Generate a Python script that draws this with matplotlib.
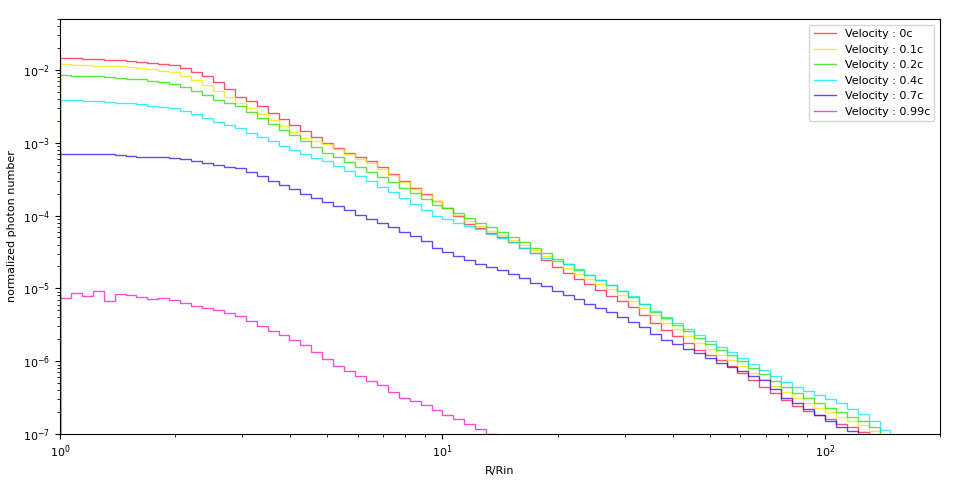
import numpy as np
import matplotlib
matplotlib.use("Agg")
from matplotlib import pyplot as plt

# log-spaced bins, 35 per decade, starting at R/Rin = 1
bin_edges = 10 ** (np.arange(77) / 35.0)

labels = ["Velocity : 0c", "Velocity : 0.1c", "Velocity : 0.2c",
          "Velocity : 0.4c", "Velocity : 0.7c", "Velocity : 0.99c"]
colors = ["#ff1a3c", "#f5e600", "#22e000", "#00e8ff", "#2a10e8", "#ff10c8"]

# log10 of normalized photon number per bin
red_log = [-1.84, -1.84, -1.85, -1.85, -1.86, -1.87, -1.88, -1.89, -1.90, -1.92,
           -1.93, -1.97, -2.03, -2.09, -2.16, -2.26, -2.37, -2.43, -2.50, -2.59,
           -2.67, -2.76, -2.84, -2.92, -3.00, -3.07, -3.14, -3.19, -3.25, -3.34,
           -3.43, -3.52, -3.62, -3.71, -3.80, -3.90, -4.01, -4.11, -4.17, -4.24,
           -4.30, -4.37, -4.45, -4.52, -4.61, -4.70, -4.79, -4.87, -4.94, -5.02,
           -5.10, -5.18, -5.26, -5.37, -5.47, -5.57, -5.66, -5.75, -5.84, -5.92,
           -5.99, -6.07, -6.16, -6.26, -6.35, -6.44, -6.53, -6.62, -6.68, -6.74,
           -6.80, -6.86, -6.91, -6.97, -7.05, -7.20]
yellow_log = [-1.92, -1.93, -1.93, -1.94, -1.94, -1.95, -1.96, -1.97, -1.99, -2.01,
              -2.03, -2.08, -2.14, -2.21, -2.29, -2.37, -2.46, -2.53, -2.61, -2.69,
              -2.77, -2.85, -2.93, -2.98, -3.02, -3.09, -3.16, -3.22, -3.28, -3.36,
              -3.45, -3.54, -3.63, -3.72, -3.80, -3.89, -3.99, -4.08, -4.15, -4.21,
              -4.27, -4.33, -4.40, -4.47, -4.55, -4.63, -4.72, -4.80, -4.87, -4.94,
              -5.01, -5.09, -5.17, -5.27, -5.37, -5.47, -5.56, -5.66, -5.75, -5.83,
              -5.91, -5.99, -6.07, -6.16, -6.25, -6.34, -6.43, -6.51, -6.58, -6.64,
              -6.70, -6.76, -6.82, -6.88, -6.96, -7.10]
green_log = [-2.07, -2.08, -2.08, -2.09, -2.10, -2.11, -2.12, -2.13, -2.15, -2.17,
             -2.19, -2.24, -2.29, -2.35, -2.42, -2.46, -2.50, -2.58, -2.66, -2.74,
             -2.82, -2.90, -2.98, -3.06, -3.14, -3.20, -3.26, -3.33, -3.40, -3.47,
             -3.54, -3.62, -3.69, -3.77, -3.85, -3.90, -3.96, -4.03, -4.10, -4.16,
             -4.22, -4.29, -4.36, -4.44, -4.51, -4.59, -4.67, -4.75, -4.82, -4.89,
             -4.96, -5.04, -5.12, -5.22, -5.32, -5.41, -5.50, -5.59, -5.68, -5.76,
             -5.84, -5.92, -6.00, -6.09, -6.18, -6.27, -6.36, -6.44, -6.51, -6.58,
             -6.64, -6.70, -6.76, -6.82, -6.90, -7.05]
cyan_log = [-2.42, -2.42, -2.43, -2.43, -2.44, -2.45, -2.46, -2.47, -2.49, -2.51,
            -2.53, -2.57, -2.61, -2.66, -2.71, -2.75, -2.80, -2.86, -2.92, -2.98,
            -3.04, -3.10, -3.16, -3.21, -3.25, -3.32, -3.39, -3.46, -3.53, -3.61,
            -3.68, -3.76, -3.84, -3.92, -4.00, -4.05, -4.10, -4.14, -4.19, -4.25,
            -4.31, -4.37, -4.44, -4.51, -4.58, -4.62, -4.66, -4.74, -4.81, -4.88,
            -4.95, -5.03, -5.11, -5.21, -5.31, -5.40, -5.48, -5.56, -5.64, -5.72,
            -5.80, -5.88, -5.96, -6.04, -6.12, -6.20, -6.28, -6.35, -6.41, -6.47,
            -6.52, -6.58, -6.65, -6.73, -6.82, -6.95]
blue_log = [-3.15, -3.15, -3.15, -3.16, -3.16, -3.17, -3.18, -3.19, -3.20, -3.20,
            -3.21, -3.23, -3.25, -3.28, -3.31, -3.33, -3.35, -3.40, -3.46, -3.52,
            -3.58, -3.64, -3.70, -3.76, -3.81, -3.87, -3.93, -3.99, -4.05, -4.10,
            -4.16, -4.22, -4.28, -4.35, -4.45, -4.50, -4.56, -4.61, -4.66, -4.70,
            -4.75, -4.80, -4.86, -4.92, -4.97, -5.03, -5.09, -5.15, -5.21, -5.27,
            -5.33, -5.40, -5.46, -5.53, -5.62, -5.71, -5.77, -5.83, -5.89, -5.96,
            -6.02, -6.08, -6.14, -6.20, -6.26, -6.38, -6.50, -6.58, -6.66, -6.74,
            -6.82, -6.90, -6.96, -7.02, -7.20, -7.30]
magenta_log = [-5.13, -5.07, -5.10, -5.03, -5.17, -5.08, -5.09, -5.12, -5.14, -5.13,
               -5.16, -5.20, -5.24, -5.27, -5.30, -5.34, -5.38, -5.45, -5.52, -5.58,
               -5.64, -5.71, -5.78, -5.87, -5.97, -6.06, -6.14, -6.21, -6.27, -6.33,
               -6.42, -6.51, -6.55, -6.60, -6.67, -6.74, -6.80, -6.86, -6.93, -7.00,
               -7.10, -7.20]

series = [red_log, yellow_log, green_log, cyan_log, blue_log, magenta_log]

fig = plt.figure(figsize=(9.6, 4.82), dpi=100)
ax = fig.add_axes([60 / 960, 48 / 482, 880 / 960, 415 / 482])

for vals, lab, col in zip(series, labels, colors):
    vals = 10 ** np.array(vals)
    edges = bin_edges[:len(vals) + 1]
    ax.stairs(vals, edges, baseline=1e-12, color=col, alpha=0.75, lw=1.0, label=lab)

ax.set_xscale("log")
ax.set_yscale("log")
ax.set_xlim(1, 200)
ax.set_ylim(1e-7, 5e-2)
ax.set_xlabel("R/Rin", fontsize=8)
ax.set_ylabel("normalized photon number", fontsize=8)
ax.tick_params(axis="both", which="major", labelsize=8)
ax.legend(loc="upper right", fontsize=8)

fig.savefig("out.png", dpi=100)
